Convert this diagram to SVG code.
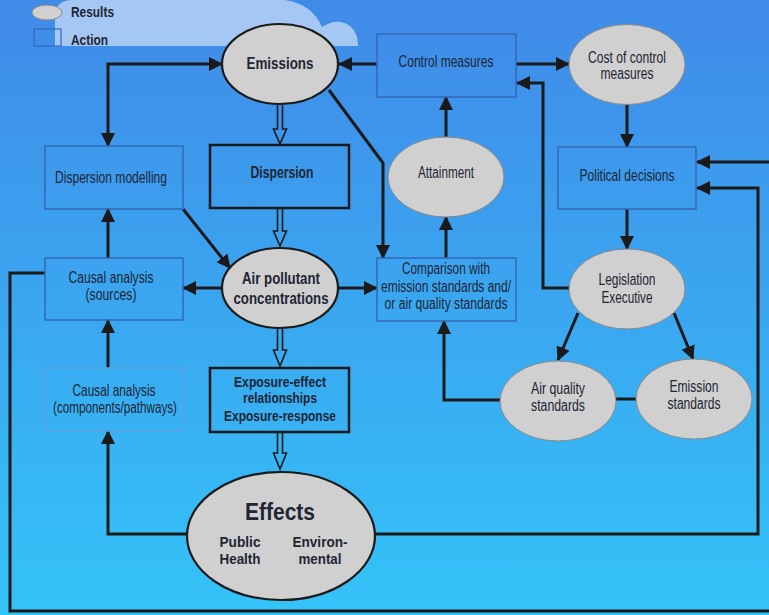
<svg xmlns="http://www.w3.org/2000/svg" width="769" height="615" viewBox="0 0 769 615">
<defs>
<linearGradient id="bg" x1="0" y1="0" x2="0" y2="1">
<stop offset="0" stop-color="#408ae8"/>
<stop offset="1" stop-color="#34c3f8"/>
</linearGradient>
<marker id="ah" viewBox="0 0 14 14" markerWidth="14" markerHeight="14" refX="13" refY="7" orient="auto-start-reverse" markerUnits="userSpaceOnUse">
<path d="M0,0 L14,7 L0,14 z" fill="#1a1a1a"/>
</marker>
<style>
.t{font-family:"Liberation Sans",Arial,sans-serif;font-size:16px;fill:#1e2634;text-anchor:middle}
.b{font-weight:bold}
.box{fill:none;stroke:#3468b4;stroke-width:1.5}
.box2{fill:none;stroke:#5ba2e4;stroke-width:1.5}
.tbox{fill:none;stroke:#1a1a1a;stroke-width:2.5}
.res{fill:#d0d0d0;stroke:#8a8a8a;stroke-width:1}
.resk{fill:#d0d0d0;stroke:#1a1a1a;stroke-width:2.2}
.c{fill:none;stroke:#1a1a1a;stroke-width:3}
.h{fill:none;stroke:#1a1a1a;stroke-width:1.6}
</style>
</defs>
<rect x="0" y="0" width="769" height="615" fill="url(#bg)"/>
<path d="M55,46 V18 Q55,0 72,0 H285 Q312,4 322,27 Q340,16 352,28 Q358,34 358,46 Z" fill="#a5c7f3"/>

<g id="legend">
<ellipse cx="47" cy="12.5" rx="15" ry="7.5" fill="#d0d0d0" stroke="#8a8a8a" stroke-width="1"/>
<text class="t b" x="71" y="17" style="text-anchor:start;font-size:15px" textLength="43" lengthAdjust="spacingAndGlyphs">Results</text>
<rect x="34" y="29" width="27" height="17" fill="none" stroke="#3468b4" stroke-width="1.2"/>
<text class="t b" x="71" y="45" style="text-anchor:start;font-size:15px" textLength="37" lengthAdjust="spacingAndGlyphs">Action</text>
</g>

<g id="connectors">
<path class="c" d="M108,146 V64 H222" marker-start="url(#ah)" marker-end="url(#ah)"/>
<path class="c" d="M377,64 H339" marker-end="url(#ah)"/>
<path class="c" d="M516,64 H569" marker-end="url(#ah)"/>
<path class="c" d="M627,104 V147" marker-end="url(#ah)"/>
<path class="c" d="M570,288 H543 V83 H517" marker-end="url(#ah)"/>
<path class="c" d="M329,90 L383,163 V258" marker-end="url(#ah)"/>
<path class="c" d="M446,137 V97" marker-end="url(#ah)"/>
<path class="c" d="M446,258 V217" marker-end="url(#ah)"/>
<path class="c" d="M627,209 V249" marker-end="url(#ah)"/>
<path class="c" d="M578,313 L558,360" marker-end="url(#ah)"/>
<path class="c" d="M674,313 L693,359" marker-end="url(#ah)"/>
<path class="c" d="M616,399 H636"/>
<path class="c" d="M500,400 H444 V321" marker-end="url(#ah)"/>
<path class="c" d="M45,273 H10 V611 H790 V162 H697" marker-end="url(#ah)"/>
<path class="c" d="M375,534 H758 V188 H697" marker-end="url(#ah)"/>
<path class="c" d="M183,209 L230,268" marker-end="url(#ah)"/>
<path class="c" d="M222,288 H183" marker-end="url(#ah)"/>
<path class="c" d="M338,288 H377" marker-end="url(#ah)"/>
<path class="c" d="M108,258 V209" marker-end="url(#ah)"/>
<path class="c" d="M108,368 V320" marker-end="url(#ah)"/>
<path class="c" d="M187,534 H108 V431" marker-end="url(#ah)"/>
<path class="h" d="M277.5,105 V129 H273.5 L280,144 L286.5,129 H282.5 V105"/>
<path class="h" d="M277.5,209 V231 H273.5 L280,246 L286.5,231 H282.5 V209"/>
<path class="h" d="M277.5,328 V350 H273.5 L280,366 L286.5,350 H282.5 V328"/>
<path class="h" d="M277.5,433 V453 H273.5 L280,469 L286.5,453 H282.5 V433"/>
</g>

<g id="emissions">
<ellipse class="resk" cx="280" cy="64" rx="58" ry="40"/>
<text class="t b" x="280" y="69" style="font-size:16.5px" textLength="67" lengthAdjust="spacingAndGlyphs">Emissions</text>
</g>
<g id="control-measures">
<rect class="box" x="377" y="34" width="139" height="63"/>
<text class="t" x="446" y="67" textLength="95" lengthAdjust="spacingAndGlyphs">Control measures</text>
</g>
<g id="cost-of-control">
<ellipse class="res" cx="627" cy="64.5" rx="58" ry="40"/>
<text class="t" x="627" y="63" textLength="78" lengthAdjust="spacingAndGlyphs">Cost of control</text>
<text class="t" x="627" y="79" textLength="53" lengthAdjust="spacingAndGlyphs">measures</text>
</g>
<g id="attainment">
<ellipse class="res" cx="446" cy="177" rx="58" ry="40"/>
<text class="t" x="446" y="178" textLength="56" lengthAdjust="spacingAndGlyphs">Attainment</text>
</g>
<g id="political-decisions">
<rect class="box" x="558" y="147" width="138" height="62"/>
<text class="t" x="627" y="181" textLength="95" lengthAdjust="spacingAndGlyphs">Political decisions</text>
</g>
<g id="comparison">
<rect class="box" x="377" y="258" width="139" height="63"/>
<text class="t" x="446" y="274" textLength="88" lengthAdjust="spacingAndGlyphs">Comparison with</text>
<text class="t" x="446" y="292" textLength="130" lengthAdjust="spacingAndGlyphs">emission standards and/</text>
<text class="t" x="446" y="309" textLength="123" lengthAdjust="spacingAndGlyphs">or air quality standards</text>
</g>
<g id="legislation">
<ellipse class="res" cx="627" cy="289" rx="58" ry="40"/>
<text class="t" x="627" y="285" textLength="57" lengthAdjust="spacingAndGlyphs">Legislation</text>
<text class="t" x="627" y="303" textLength="51" lengthAdjust="spacingAndGlyphs">Executive</text>
</g>
<g id="air-quality-standards">
<ellipse class="res" cx="558" cy="401" rx="58" ry="40"/>
<text class="t" x="558" y="394" textLength="54" lengthAdjust="spacingAndGlyphs">Air quality</text>
<text class="t" x="558" y="411" textLength="54" lengthAdjust="spacingAndGlyphs">standards</text>
</g>
<g id="emission-standards">
<ellipse class="res" cx="694" cy="399" rx="58" ry="40"/>
<text class="t" x="694" y="392" textLength="49" lengthAdjust="spacingAndGlyphs">Emission</text>
<text class="t" x="694" y="409" textLength="53" lengthAdjust="spacingAndGlyphs">standards</text>
</g>
<g id="dispersion-modelling">
<rect class="box" x="45" y="146" width="138" height="63"/>
<text class="t" x="111" y="183" textLength="112" lengthAdjust="spacingAndGlyphs">Dispersion modelling</text>
</g>
<g id="dispersion">
<rect class="tbox" x="210" y="145" width="139" height="63"/>
<text class="t b" x="282" y="178" textLength="63" lengthAdjust="spacingAndGlyphs">Dispersion</text>
</g>
<g id="causal-sources">
<rect class="box" x="45" y="258" width="138" height="62"/>
<text class="t" x="111" y="283" textLength="85" lengthAdjust="spacingAndGlyphs">Causal analysis</text>
<text class="t" x="111" y="300" textLength="51" lengthAdjust="spacingAndGlyphs">(sources)</text>
</g>
<g id="air-pollutant">
<ellipse class="resk" cx="280" cy="288" rx="58" ry="40"/>
<text class="t b" x="281" y="284" style="font-size:17px" textLength="78" lengthAdjust="spacingAndGlyphs">Air pollutant</text>
<text class="t b" x="281" y="304" style="font-size:17px" textLength="95" lengthAdjust="spacingAndGlyphs">concentrations</text>
</g>
<g id="causal-components">
<rect class="box2" x="45" y="368" width="138" height="63"/>
<text class="t" x="114" y="396" textLength="83" lengthAdjust="spacingAndGlyphs">Causal analysis</text>
<text class="t" x="115" y="413" textLength="124" lengthAdjust="spacingAndGlyphs">(components/pathways)</text>
</g>
<g id="exposure">
<rect class="tbox" x="210" y="368" width="139" height="64"/>
<text class="t b" x="280" y="387" style="font-size:15px" textLength="92" lengthAdjust="spacingAndGlyphs">Exposure-effect</text>
<text class="t b" x="280" y="403" style="font-size:15px" textLength="74" lengthAdjust="spacingAndGlyphs">relationships</text>
<text class="t b" x="280" y="421" style="font-size:15px" textLength="112" lengthAdjust="spacingAndGlyphs">Exposure-response</text>
</g>
<g id="effects">
<ellipse class="resk" cx="281" cy="536" rx="94" ry="64"/>
<text class="t b" x="280" y="520" style="font-size:23px" textLength="70" lengthAdjust="spacingAndGlyphs">Effects</text>
<text class="t b" x="240" y="547" style="font-size:14px" textLength="41" lengthAdjust="spacingAndGlyphs">Public</text>
<text class="t b" x="240" y="564" style="font-size:14px" textLength="41" lengthAdjust="spacingAndGlyphs">Health</text>
<text class="t b" x="320" y="547" style="font-size:14px" textLength="55" lengthAdjust="spacingAndGlyphs">Environ-</text>
<text class="t b" x="320" y="564" style="font-size:14px" textLength="43" lengthAdjust="spacingAndGlyphs">mental</text>
</g>
</svg>
